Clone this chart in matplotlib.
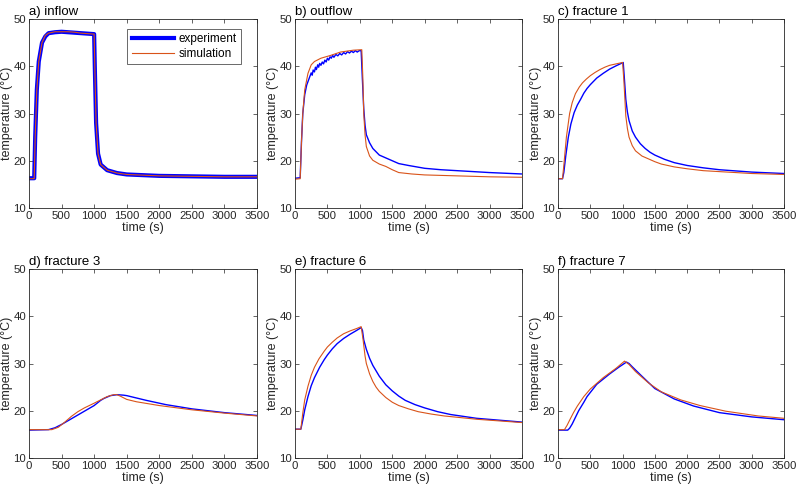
import matplotlib
matplotlib.use("Agg")
import matplotlib.pyplot as plt
import numpy as np

plt.rcParams['font.family'] = ['Liberation Sans', 'DejaVu Sans']

BLUE = (0, 0, 1)
ORANGE = (0.85, 0.325, 0.098)
GREY = (0.15, 0.15, 0.15)

titles = ["a) inflow", "b) outflow", "c) fracture 1",
          "d) fracture 3", "e) fracture 6", "f) fracture 7"]

# a) inflow
a_exp_t = [0, 80, 95, 120, 150, 200, 250, 300, 400, 500, 600, 700, 800, 900, 1000, 1010, 1030, 1060, 1100, 1200, 1350, 1500, 2000, 2500, 3000, 3500]
a_exp_y = [16.3, 16.3, 25, 35, 41, 45, 46.3, 47, 47.2, 47.3, 47.2, 47.1, 47, 46.9, 46.8, 40, 28, 21.5, 19.2, 18, 17.4, 17.1, 16.8, 16.7, 16.6, 16.6]
a_sim_t = [0, 80, 95, 120, 150, 200, 250, 300, 400, 500, 600, 700, 800, 900, 1000, 1010, 1030, 1060, 1100, 1200, 1350, 1500, 2000, 2500, 3000, 3500]
a_sim_y = [16.2, 16.2, 25, 35, 41, 45, 46.5, 47, 47.3, 47.3, 47.3, 47.2, 47, 46.9, 46.8, 40, 28, 21.5, 19.2, 18, 17.4, 17.1, 16.8, 16.7, 16.6, 16.6]

# b) outflow
b_exp_t = [0, 80, 100, 120, 150, 180, 220, 250, 265, 280, 300, 315, 330, 350, 365, 380, 400, 420, 440, 460, 480, 500, 520, 540, 560, 580, 600, 630, 660, 690, 720, 750, 780, 810, 840, 870, 900, 930, 960, 990, 1020, 1040, 1060, 1080, 1100, 1150, 1200, 1250, 1300, 1400, 1500, 1600, 1750, 2000, 2250, 2500, 3000, 3500]
b_exp_y = [16.3, 16.4, 24, 30, 34, 36, 37.5, 38.6, 38.1, 39.2, 38.8, 39.8, 39.3, 40.3, 39.8, 40.6, 40.2, 40.9, 40.5, 41.3, 40.9, 41.7, 41.3, 42, 41.7, 42.3, 41.9, 42.5, 42.2, 42.7, 42.4, 42.9, 42.6, 43.1, 42.8, 43.2, 42.9, 43.3, 43, 43.3, 43.3, 37, 31, 27.5, 25.5, 23.8, 22.6, 21.9, 21.2, 20.6, 20, 19.4, 19, 18.4, 18.1, 17.9, 17.5, 17.2]
b_sim_t = [0, 80, 100, 120, 150, 200, 250, 300, 400, 550, 700, 900, 1030, 1045, 1060, 1080, 1100, 1150, 1200, 1300, 1400, 1500, 1600, 1800, 2000, 2500, 3000, 3500]
b_sim_y = [16.1, 16.2, 24, 30, 35, 38.5, 40.3, 41, 41.7, 42.3, 43, 43.4, 43.5, 38, 30, 25.5, 23, 21, 20.1, 19.3, 18.8, 18.1, 17.5, 17.2, 17, 16.8, 16.6, 16.5]

# c) fracture 1
c_exp_t = [0, 70, 90, 120, 160, 200, 250, 300, 350, 400, 450, 500, 600, 700, 800, 900, 1010, 1030, 1050, 1075, 1100, 1150, 1200, 1275, 1350, 1425, 1500, 1650, 1800, 2000, 2250, 2500, 3000, 3500]
c_exp_y = [16.2, 16.2, 17.5, 21, 25, 27.8, 30.2, 31.8, 33, 34.3, 35.3, 36.1, 37.5, 38.5, 39.4, 40.1, 40.8, 37, 33, 30.3, 28.5, 26.3, 25, 23.6, 22.6, 21.8, 21.2, 20.3, 19.6, 19, 18.5, 18.1, 17.6, 17.3]
c_sim_t = [0, 70, 90, 130, 180, 220, 270, 330, 380, 440, 500, 575, 650, 725, 800, 900, 1000, 1020, 1050, 1075, 1100, 1150, 1200, 1300, 1400, 1500, 1600, 1800, 2000, 2250, 2500, 3000, 3500]
c_sim_y = [16.2, 16.2, 19, 25, 30, 32.3, 34.2, 35.6, 36.5, 37.3, 38, 38.7, 39.3, 39.8, 40.2, 40.5, 40.8, 37, 29.5, 26.8, 25, 23.2, 22.1, 21, 20.4, 19.8, 19.3, 18.7, 18.3, 17.9, 17.7, 17.3, 17.1]

# d) fracture 3
d_exp_t = [0, 300, 400, 500, 600, 700, 800, 900, 1000, 1100, 1150, 1250, 1350, 1450, 1500, 1800, 2100, 2500, 3000, 3500]
d_exp_y = [15.9, 16, 16.4, 17.1, 17.9, 18.7, 19.5, 20.3, 21.1, 22.2, 22.6, 23.2, 23.4, 23.3, 23.2, 22.2, 21.3, 20.4, 19.6, 19]
d_sim_t = [0, 350, 450, 550, 650, 750, 850, 1000, 1100, 1200, 1300, 1350, 1400, 1500, 1650, 2000, 2500, 3000, 3500]
d_sim_y = [16, 16, 16.5, 17.6, 18.8, 19.8, 20.6, 21.6, 22.3, 23, 23.4, 23.4, 23.1, 22.4, 21.9, 21.1, 20.2, 19.5, 18.9]

# e) fracture 6
e_exp_t = [0, 90, 120, 150, 200, 250, 300, 380, 450, 500, 575, 650, 750, 850, 950, 1020, 1040, 1060, 1100, 1150, 1200, 1300, 1400, 1500, 1600, 1700, 1850, 2000, 2200, 2400, 2800, 3500]
e_exp_y = [16.1, 16.1, 18, 20.2, 23, 25.3, 27, 29.2, 30.8, 31.8, 33.1, 34.2, 35.3, 36.2, 37, 37.6, 37, 35, 33, 31.1, 29.6, 27.3, 25.5, 24.2, 23.1, 22.2, 21.3, 20.6, 19.8, 19.2, 18.4, 17.6]
e_sim_t = [0, 90, 120, 150, 200, 250, 300, 370, 450, 500, 575, 650, 750, 850, 950, 1020, 1050, 1080, 1100, 1150, 1200, 1250, 1300, 1400, 1500, 1600, 1750, 1900, 2100, 2300, 2800, 3500]
e_sim_y = [16.1, 16.1, 19.5, 22.3, 25.2, 27.5, 29.2, 31, 32.6, 33.5, 34.5, 35.4, 36.3, 36.9, 37.4, 37.8, 35, 31.6, 30, 27.8, 26.2, 25, 24.1, 22.8, 21.8, 21.1, 20.4, 19.8, 19.3, 18.9, 18.2, 17.5]

# f) fracture 7
f_exp_t = [0, 150, 180, 220, 270, 320, 400, 450, 600, 800, 950, 1060, 1100, 1150, 1300, 1500, 1800, 2100, 2500, 3000, 3500]
f_exp_y = [15.9, 15.9, 16.3, 17.2, 18.6, 20, 21.8, 23, 25.6, 27.8, 29.3, 30.3, 30, 29.3, 27.3, 24.7, 22.5, 21, 19.6, 18.7, 18.1]
f_sim_t = [0, 100, 140, 180, 240, 300, 400, 500, 700, 900, 1030, 1100, 1200, 1400, 1600, 1900, 2200, 2600, 3100, 3500]
f_sim_y = [16, 16, 16.9, 18, 19.6, 21, 23, 24.6, 27, 29, 30.5, 29.8, 28.3, 25.9, 24, 22.3, 21.1, 19.9, 18.9, 18.4]

exp_data = [(a_exp_t, a_exp_y), (b_exp_t, b_exp_y), (c_exp_t, c_exp_y),
            (d_exp_t, d_exp_y), (e_exp_t, e_exp_y), (f_exp_t, f_exp_y)]
sim_data = [(a_sim_t, a_sim_y), (b_sim_t, b_sim_y), (c_sim_t, c_sim_y),
            (d_sim_t, d_sim_y), (e_sim_t, e_sim_y), (f_sim_t, f_sim_y)]

W, H = 798, 491
fig = plt.figure(figsize=(W / 100, H / 100), dpi=100)

lefts = [29, 295, 558]
widths = [228, 227, 226]
tops = [19, 269]
ah = 189

for i in range(6):
    r, c = divmod(i, 3)
    x0 = lefts[c]
    aw = widths[c]
    y0 = tops[r]
    ax = fig.add_axes([x0 / W, 1 - (y0 + ah) / H, aw / W, ah / H])
    te, ye = exp_data[i]
    ts, ys = sim_data[i]
    lw = 3.0 if i == 0 else 1.0
    ax.plot(te, ye, color=BLUE, lw=lw, label="experiment")
    ax.plot(ts, ys, color=ORANGE, lw=0.8, label="simulation")
    ax.set_xlim(0, 3500)
    ax.set_ylim(10, 50)
    ax.set_xticks(np.arange(0, 3501, 500))
    ax.set_yticks([10, 20, 30, 40, 50])
    ax.tick_params(direction='in', top=True, right=True, labelsize=8.2,
                   colors=GREY, length=3, width=0.5, pad=2)
    for s in ax.spines.values():
        s.set_color(GREY)
        s.set_linewidth(0.6)
    ax.set_xlabel("time (s)", fontsize=9, color=GREY, labelpad=1)
    ax.set_ylabel("temperature (°C)", fontsize=9, color=GREY, labelpad=0)
    ax.set_title(titles[i], loc='left', fontsize=9.5, pad=3)
    if i == 0:
        leg = ax.legend(loc='upper right', bbox_to_anchor=((241 - x0) / aw, 1 - 10 / ah),
                        fontsize=8.5, frameon=True, fancybox=False,
                        edgecolor=GREY, borderaxespad=0, handlelength=3.6,
                        labelspacing=0.25, borderpad=0.35, handletextpad=0.4)
        leg.get_frame().set_linewidth(0.6)

fig.savefig("out.png", dpi=100)
